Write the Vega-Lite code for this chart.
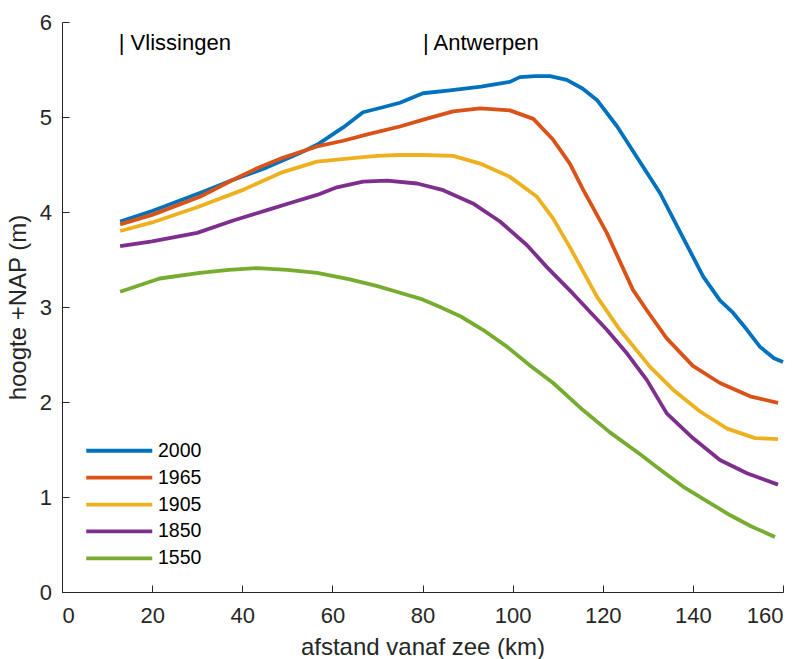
{
  "$schema": "https://vega.github.io/schema/vega-lite/v6.json",
  "width": 721,
  "height": 570,
  "autosize": {"type": "none"},
  "padding": {"left": 62, "top": 22, "right": 20, "bottom": 67},
  "background": "white",
  "config": {
    "view": {"stroke": null},
    "font": "Liberation Sans",
    "axis": {
      "grid": false,
      "domainColor": "#262626",
      "domainWidth": 1,
      "tickColor": "#262626",
      "tickWidth": 1,
      "tickSize": -7,
      "labelColor": "#262626",
      "labelFont": "Liberation Sans",
      "labelFontSize": 22,
      "titleColor": "#262626",
      "titleFont": "Liberation Sans",
      "titleFontSize": 24,
      "titleFontWeight": "normal"
    },
    "legend": {
      "orient": "none",
      "legendX": 20,
      "legendY": 419,
      "padding": 0,
      "symbolType": "M-6,0H6",
      "symbolSize": 121,
      "symbolStrokeWidth": 3.8,
      "symbolOffset": 27.5,
      "labelOffset": 29,
      "labelFont": "Liberation Sans",
      "labelFontSize": 19.5,
      "labelColor": "#000000",
      "rowPadding": 5.9
    }
  },
  "datasets": {
    "profielen": [
      {"jaar": "2000", "km": 12.9, "h": 3.90},
      {"jaar": "2000", "km": 20, "h": 4.01},
      {"jaar": "2000", "km": 30.6, "h": 4.20},
      {"jaar": "2000", "km": 38, "h": 4.34},
      {"jaar": "2000", "km": 45.5, "h": 4.47},
      {"jaar": "2000", "km": 52.8, "h": 4.62},
      {"jaar": "2000", "km": 57, "h": 4.72},
      {"jaar": "2000", "km": 62.4, "h": 4.89},
      {"jaar": "2000", "km": 66.8, "h": 5.05},
      {"jaar": "2000", "km": 71, "h": 5.10},
      {"jaar": "2000", "km": 75, "h": 5.15},
      {"jaar": "2000", "km": 80.1, "h": 5.25},
      {"jaar": "2000", "km": 86.1, "h": 5.28},
      {"jaar": "2000", "km": 93, "h": 5.32},
      {"jaar": "2000", "km": 99.4, "h": 5.37},
      {"jaar": "2000", "km": 101.6, "h": 5.42},
      {"jaar": "2000", "km": 105, "h": 5.43},
      {"jaar": "2000", "km": 108.3, "h": 5.43},
      {"jaar": "2000", "km": 112, "h": 5.39},
      {"jaar": "2000", "km": 115.5, "h": 5.30},
      {"jaar": "2000", "km": 118.7, "h": 5.18},
      {"jaar": "2000", "km": 123.2, "h": 4.90},
      {"jaar": "2000", "km": 132.7, "h": 4.20},
      {"jaar": "2000", "km": 137.5, "h": 3.76},
      {"jaar": "2000", "km": 142.3, "h": 3.32},
      {"jaar": "2000", "km": 146, "h": 3.07},
      {"jaar": "2000", "km": 148.9, "h": 2.94},
      {"jaar": "2000", "km": 152, "h": 2.76},
      {"jaar": "2000", "km": 154.9, "h": 2.58},
      {"jaar": "2000", "km": 158, "h": 2.46},
      {"jaar": "2000", "km": 160, "h": 2.42},

      {"jaar": "1965", "km": 12.9, "h": 3.87},
      {"jaar": "1965", "km": 20, "h": 3.97},
      {"jaar": "1965", "km": 30.6, "h": 4.16},
      {"jaar": "1965", "km": 38, "h": 4.34},
      {"jaar": "1965", "km": 43.3, "h": 4.46},
      {"jaar": "1965", "km": 49, "h": 4.57},
      {"jaar": "1965", "km": 56.6, "h": 4.69},
      {"jaar": "1965", "km": 62.4, "h": 4.75},
      {"jaar": "1965", "km": 68, "h": 4.82},
      {"jaar": "1965", "km": 75, "h": 4.90},
      {"jaar": "1965", "km": 80, "h": 4.97},
      {"jaar": "1965", "km": 86.8, "h": 5.06},
      {"jaar": "1965", "km": 92.8, "h": 5.09},
      {"jaar": "1965", "km": 99.4, "h": 5.07},
      {"jaar": "1965", "km": 104.6, "h": 4.98},
      {"jaar": "1965", "km": 109, "h": 4.76},
      {"jaar": "1965", "km": 112.7, "h": 4.51},
      {"jaar": "1965", "km": 115.7, "h": 4.23},
      {"jaar": "1965", "km": 120.9, "h": 3.78},
      {"jaar": "1965", "km": 126.7, "h": 3.18},
      {"jaar": "1965", "km": 130, "h": 2.95},
      {"jaar": "1965", "km": 134.2, "h": 2.67},
      {"jaar": "1965", "km": 140, "h": 2.38},
      {"jaar": "1965", "km": 146, "h": 2.20},
      {"jaar": "1965", "km": 152.7, "h": 2.06},
      {"jaar": "1965", "km": 158.9, "h": 1.99},

      {"jaar": "1905", "km": 12.9, "h": 3.80},
      {"jaar": "1905", "km": 20, "h": 3.89},
      {"jaar": "1905", "km": 30, "h": 4.05},
      {"jaar": "1905", "km": 40, "h": 4.23},
      {"jaar": "1905", "km": 49, "h": 4.42},
      {"jaar": "1905", "km": 56.6, "h": 4.53},
      {"jaar": "1905", "km": 65, "h": 4.57},
      {"jaar": "1905", "km": 70, "h": 4.59},
      {"jaar": "1905", "km": 75, "h": 4.60},
      {"jaar": "1905", "km": 80, "h": 4.60},
      {"jaar": "1905", "km": 86.8, "h": 4.59},
      {"jaar": "1905", "km": 92.8, "h": 4.51},
      {"jaar": "1905", "km": 99.4, "h": 4.37},
      {"jaar": "1905", "km": 105.4, "h": 4.16},
      {"jaar": "1905", "km": 109, "h": 3.93},
      {"jaar": "1905", "km": 112.7, "h": 3.63},
      {"jaar": "1905", "km": 118.7, "h": 3.11},
      {"jaar": "1905", "km": 123.8, "h": 2.76},
      {"jaar": "1905", "km": 130.5, "h": 2.37},
      {"jaar": "1905", "km": 135.6, "h": 2.13},
      {"jaar": "1905", "km": 141.6, "h": 1.90},
      {"jaar": "1905", "km": 147.6, "h": 1.72},
      {"jaar": "1905", "km": 153.8, "h": 1.62},
      {"jaar": "1905", "km": 158.9, "h": 1.61},

      {"jaar": "1850", "km": 12.9, "h": 3.64},
      {"jaar": "1850", "km": 20, "h": 3.69},
      {"jaar": "1850", "km": 30, "h": 3.78},
      {"jaar": "1850", "km": 38, "h": 3.91},
      {"jaar": "1850", "km": 45.5, "h": 4.02},
      {"jaar": "1850", "km": 51, "h": 4.10},
      {"jaar": "1850", "km": 56.6, "h": 4.18},
      {"jaar": "1850", "km": 61, "h": 4.26},
      {"jaar": "1850", "km": 66.8, "h": 4.32},
      {"jaar": "1850", "km": 72.1, "h": 4.33},
      {"jaar": "1850", "km": 78.8, "h": 4.30},
      {"jaar": "1850", "km": 84.6, "h": 4.23},
      {"jaar": "1850", "km": 91.2, "h": 4.09},
      {"jaar": "1850", "km": 97.2, "h": 3.90},
      {"jaar": "1850", "km": 103.2, "h": 3.65},
      {"jaar": "1850", "km": 107.6, "h": 3.42},
      {"jaar": "1850", "km": 113.4, "h": 3.14},
      {"jaar": "1850", "km": 120.9, "h": 2.76},
      {"jaar": "1850", "km": 125.4, "h": 2.51},
      {"jaar": "1850", "km": 129.8, "h": 2.23},
      {"jaar": "1850", "km": 134.2, "h": 1.88},
      {"jaar": "1850", "km": 140, "h": 1.62},
      {"jaar": "1850", "km": 146, "h": 1.39},
      {"jaar": "1850", "km": 152, "h": 1.25},
      {"jaar": "1850", "km": 158.9, "h": 1.13},

      {"jaar": "1550", "km": 12.9, "h": 3.16},
      {"jaar": "1550", "km": 21.7, "h": 3.30},
      {"jaar": "1550", "km": 30.6, "h": 3.36},
      {"jaar": "1550", "km": 37, "h": 3.39},
      {"jaar": "1550", "km": 43.3, "h": 3.41},
      {"jaar": "1550", "km": 50, "h": 3.39},
      {"jaar": "1550", "km": 56.6, "h": 3.36},
      {"jaar": "1550", "km": 63.9, "h": 3.29},
      {"jaar": "1550", "km": 70, "h": 3.22},
      {"jaar": "1550", "km": 75, "h": 3.15},
      {"jaar": "1550", "km": 80, "h": 3.08},
      {"jaar": "1550", "km": 83.9, "h": 3.00},
      {"jaar": "1550", "km": 88.5, "h": 2.90},
      {"jaar": "1550", "km": 93.4, "h": 2.76},
      {"jaar": "1550", "km": 98.8, "h": 2.58},
      {"jaar": "1550", "km": 104, "h": 2.38},
      {"jaar": "1550", "km": 109, "h": 2.20},
      {"jaar": "1550", "km": 115, "h": 1.94},
      {"jaar": "1550", "km": 121.6, "h": 1.68},
      {"jaar": "1550", "km": 128.3, "h": 1.45},
      {"jaar": "1550", "km": 133, "h": 1.28},
      {"jaar": "1550", "km": 137.8, "h": 1.11},
      {"jaar": "1550", "km": 143, "h": 0.96},
      {"jaar": "1550", "km": 148.2, "h": 0.81},
      {"jaar": "1550", "km": 153, "h": 0.69},
      {"jaar": "1550", "km": 158.2, "h": 0.58}
    ],
    "plaatsen": [
      {"naam": "| Vlissingen", "km": 12.6, "h": 5.78},
      {"naam": "| Antwerpen", "km": 80.1, "h": 5.78}
    ]
  },
  "layer": [
    {
      "data": {"name": "profielen"},
      "mark": {"type": "line", "strokeWidth": 3.8, "strokeJoin": "round", "strokeCap": "butt"},
      "encoding": {
        "x": {
          "field": "km", "type": "quantitative",
          "scale": {"domain": [0, 160], "nice": false, "zero": false},
          "axis": {
            "title": "afstand vanaf zee (km)",
            "values": [0, 20, 40, 60, 80, 100, 120, 140, 160],
            "format": "d",
            "labelPadding": 20,
            "titlePadding": 9
          }
        },
        "y": {
          "field": "h", "type": "quantitative",
          "scale": {"domain": [0, 6], "nice": false},
          "axis": {
            "title": "hoogte +NAP (m)",
            "values": [0, 1, 2, 3, 4, 5, 6],
            "format": "d",
            "labelPadding": 17.5,
            "titlePadding": 9
          }
        },
        "color": {
          "field": "jaar", "type": "nominal",
          "scale": {
            "domain": ["2000", "1965", "1905", "1850", "1550"],
            "range": ["#0072BD", "#D95319", "#EDB120", "#7E2F8E", "#77AC30"]
          },
          "legend": {"title": null}
        },
        "order": {"field": "km", "type": "quantitative"}
      }
    },
    {
      "data": {"name": "plaatsen"},
      "mark": {"type": "text", "align": "left", "baseline": "middle", "fontSize": 22, "font": "Liberation Sans", "color": "#000000"},
      "encoding": {
        "x": {"field": "km", "type": "quantitative"},
        "y": {"field": "h", "type": "quantitative"},
        "text": {"field": "naam", "type": "nominal"}
      }
    }
  ]
}
